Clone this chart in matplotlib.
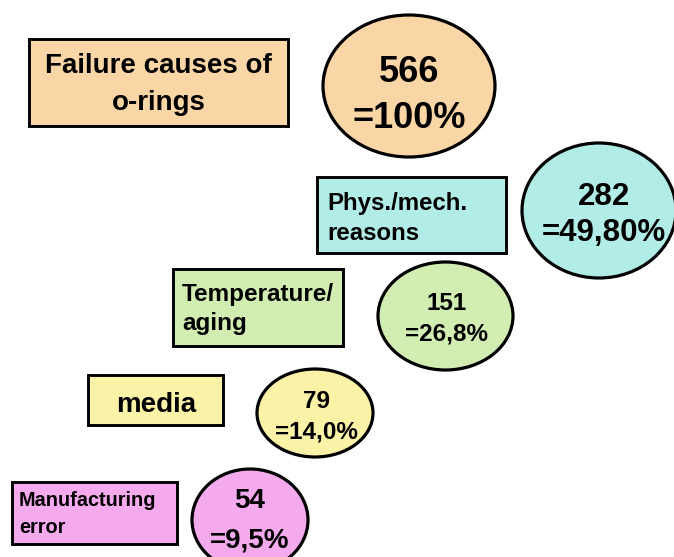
import matplotlib
matplotlib.use("Agg")
import matplotlib.pyplot as plt
from matplotlib.patches import Rectangle, Ellipse

labels = [["Failure causes of", "o-rings"], ["Phys./mech.", "reasons"], ["Temperature/", "aging"], ["media"],
          ["Manufacturing", "error"]]
counts = ["566", "282", "151", "79", "54"]
percents = ["=100%", "=49,80%", "=26,8%", "=14,0%", "=9,5%"]
colors = ["#FAD5A5", "#B1EDE6", "#D1EDB2", "#FAF2A6", "#F5AAEE"]

# layout (pixel coordinates, y downwards)
boxes = [(29, 39, 259, 87), (317, 177, 189, 76), (173, 269, 170, 77), (88, 375, 135, 50), (12, 482, 165, 62)]
box_text_x = [158.5, 327, 182, 156.5, 19]
box_align = ["center", "left", "left", "center", "left"]
box_baselines = [[73, 110], [210, 240], [301, 330], [412], [506, 533]]
box_fs = [20, 17.3, 17.5, 20, 14.3]
ells = [(409, 86, 172, 142), (599, 210.5, 154, 135), (445.5, 316, 135, 108), (315, 413, 116, 88), (250, 520, 116, 102)]
ell_text_x = [409, 604, 447, 316, 250]
ell_baselines = [(82, 128), (205, 241), (310, 340), (408, 438), (508, 548)]
ell_fs = [26, 22.5, 17.5, 17.5, 20]

fig = plt.figure(figsize=(6.74, 5.57), dpi=100)
ax = fig.add_axes([0, 0, 1, 1])
ax.set_xlim(0, 674)
ax.set_ylim(557, 0)
ax.axis("off")

fam = ["Liberation Sans", "DejaVu Sans"]

for i in range(len(labels)):
    x, y, w, h = boxes[i]
    ax.add_patch(Rectangle((x, y), w, h, facecolor=colors[i], edgecolor="black", lw=2.1))
    for line, bl in zip(labels[i], box_baselines[i]):
        ax.text(box_text_x[i], bl, line, ha=box_align[i], va="baseline", fontsize=box_fs[i],
                fontweight="bold", family=fam)
    cx, cy, ew, eh = ells[i]
    ax.add_patch(Ellipse((cx, cy), ew, eh, facecolor=colors[i], edgecolor="black", lw=2.3, clip_on=False))
    ax.text(ell_text_x[i], ell_baselines[i][0], counts[i], ha="center", va="baseline", fontsize=ell_fs[i],
            fontweight="bold", family=fam)
    ax.text(ell_text_x[i], ell_baselines[i][1], percents[i], ha="center", va="baseline", fontsize=ell_fs[i],
            fontweight="bold", family=fam)

fig.savefig("out.png", dpi=100)
